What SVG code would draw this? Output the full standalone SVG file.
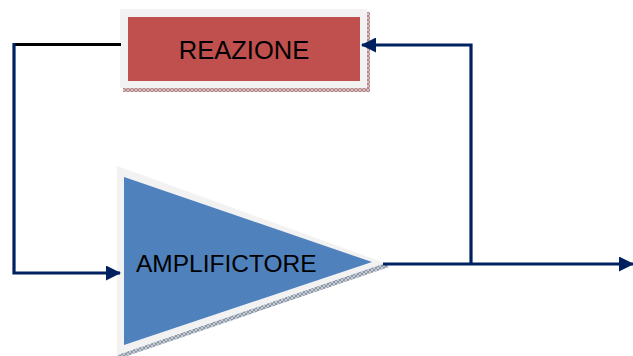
<svg xmlns="http://www.w3.org/2000/svg" width="633" height="356" viewBox="0 0 633 356">
  <style>
    .wire { fill: none; stroke: #002060; stroke-width: 3.2; stroke-linejoin: miter; }
    .wire-black { fill: none; stroke: #000000; stroke-width: 3.2; }
    .frame { fill: #F2F2F2; }
    .label { font-family: "Liberation Sans", Arial, sans-serif; fill: #000000; }
  </style>
  <defs>
    <marker id="arrow" markerUnits="userSpaceOnUse" markerWidth="15" markerHeight="15" viewBox="0 0 15 15" refX="14" refY="7.5" orient="auto">
      <path d="M0,0 L15,7.5 L0,15 Z" fill="#002060"/>
    </marker>
    <pattern id="hatchRed" width="4" height="4" patternUnits="userSpaceOnUse">
      <rect width="4" height="4" fill="#D8BDBD"/>
      <path d="M0,0 L4,4 M4,0 L0,4" stroke="#A87878" stroke-width="0.8"/>
    </pattern>
    <pattern id="hatchBlue" width="4" height="4" patternUnits="userSpaceOnUse">
      <rect width="4" height="4" fill="#C4CCD6"/>
      <path d="M0,0 L4,4 M4,0 L0,4" stroke="#7C8796" stroke-width="0.8"/>
    </pattern>
  </defs>

  <rect width="633" height="356" fill="#FFFFFF"/>

  <!-- feedback block -->
  <g id="reazione">
    <rect x="123" y="12" width="247" height="80" fill="url(#hatchRed)"/>
    <rect class="frame" x="120" y="9" width="247" height="79"/>
    <rect x="128" y="17" width="232" height="64" fill="#C0504D"/>
    <text class="label" x="244" y="59" font-size="25.5" text-anchor="middle">REAZIONE</text>
  </g>

  <!-- amplifier block -->
  <g id="amplificatore">
    <polygon points="117,355 385,263 389,267 121,358" fill="url(#hatchBlue)"/>
    <polygon class="frame" points="117,166 385,263 117,355"/>
    <polygon points="124,177 372,262 124,345" fill="#4F81BD"/>
    <text class="label" x="136" y="272" font-size="24.5">AMPLIFICTORE</text>
  </g>

  <!-- connectors -->
  <g id="connectors">
    <!-- feedback return to amplifier input -->
    <path class="wire-black" d="M14,44.5 H121"/>
    <path class="wire" d="M14,43 V273 H120" marker-end="url(#arrow)"/>
    <!-- amplifier output -->
    <path class="wire" d="M383,264 H633" marker-end="url(#arrow)"/>
    <!-- output sampled into feedback block -->
    <path class="wire" d="M471,264 V45 H362" marker-end="url(#arrow)"/>
  </g>
</svg>
